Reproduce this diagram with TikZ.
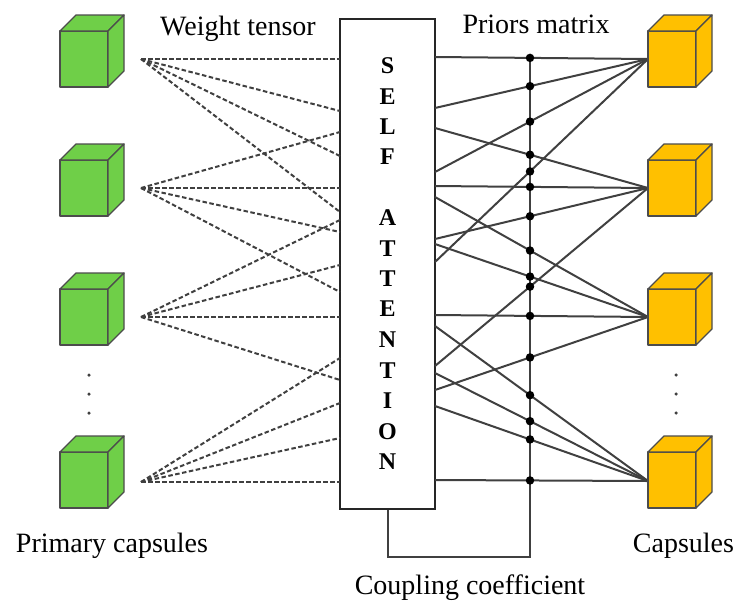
\documentclass[tikz,border=0pt]{standalone}
\usepackage{fontspec}
\setmainfont{Liberation Serif}
\usetikzlibrary{calc}
\definecolor{cubegreen}{RGB}{111,207,72}
\definecolor{cubegold}{RGB}{255,192,0}
\definecolor{linegray}{RGB}{64,64,64}
\newcommand\mycube[3]{%
  \filldraw[cubeline, fill=#3] (#1,#2) rectangle ++(48,56);
  \filldraw[cubeline, fill=#3] (#1,#2) -- ++(16,-16) -- ++(48,0) -- ++(-16,16) -- cycle;
  \filldraw[cubeline, fill=#3] (#1+48,#2) -- ++(16,-16) -- ++(0,56) -- ++(-16,16) -- cycle;
}
\tikzset{
  cubeline/.style={draw=black!70, line width=1.3pt, line join=round},
  weight/.style={draw=linegray, line width=2pt, dash pattern=on 4.5pt off 2.5pt},
  prior/.style={draw=linegray, line width=2pt},
  junction/.style={circle, fill=black, inner sep=0pt, minimum size=8.5pt},
  vdot/.style={circle, fill=linegray, inner sep=0pt, minimum size=3.5pt},
  captxt/.style={font=\fontsize{28}{32}\selectfont, anchor=base, inner sep=0pt},
  attbox/.style={draw=black!85, line width=2.4pt, fill=white, inner sep=0pt},
  boxletter/.style={font=\fontsize{24}{26}\selectfont\bfseries, inner sep=0pt},
}
\begin{document}
\begin{tikzpicture}[x=1pt, y=-1pt]
\useasboundingbox (0,0) rectangle (735,600);

% self-attention box
\node[attbox, minimum width=95pt, minimum height=490pt] (att) at (387.5,264) {};
\foreach \ch/\yy [count=\i] in {S/66,E/97,L/127,F/157,A/218,T/249,T/279,E/309,N/340,T/371,I/401,O/432,N/462}
  \node[boxletter] (ltr\i) at (387.5,\yy) {\ch};

% weight tensor (dashed)
\foreach \o/\oy/\ends in {1/59/{59,111,156,212},2/188/{132,188,232,292},3/317/{220,265,317,380},4/482/{358,403,438,482}}{
  \coordinate (src\o) at (141,\oy);
  \foreach \e in \ends {
    \coordinate (w\o-\e) at (340,\e);
    \draw[weight] (src\o) -- (w\o-\e);
  }
}

% priors (solid)
\foreach \c/\cy/\starts in {1/59/{57,108,172,262},2/188/{128,186,239,366},3/317/{197,244,315,390},4/481/{326,373,406,480}}{
  \coordinate (cap\c) at (648,\cy);
  \foreach \s in \starts {
    \coordinate (p\c-\s) at (435,\s);
    \draw[prior] (p\c-\s) -- (cap\c);
  }
}

% coupling coefficient path
\coordinate (topj) at ($(p1-57)!0.446!(cap1)$);
\coordinate (ccbend) at (387.5,557);
\draw[prior] (att.south) -- (ccbend) -| (topj);

% junction dots
\foreach \c/\starts in {1/{57,108,172,262},2/{128,186,239,366},3/{197,244,315,390},4/{326,373,406,480}}{
  \foreach \s in \starts {
    \node[junction] (j\c-\s) at ($(p\c-\s)!0.446!(cap\c)$) {};
  }
}

% cubes
\mycube{60}{31}{cubegreen}
\mycube{60}{160}{cubegreen}
\mycube{60}{289}{cubegreen}
\mycube{60}{452}{cubegreen}
\mycube{648}{31}{cubegold}
\mycube{648}{160}{cubegold}
\mycube{648}{289}{cubegold}
\mycube{648}{452}{cubegold}

% vertical ellipsis dots
\foreach \yy [count=\i] in {375,394,413}{
  \node[vdot] (ld\i) at (89,\yy) {};
  \node[vdot] (rd\i) at (676,\yy) {};
}

% captions
\node[captxt] (wt) at (238,35) {Weight tensor};
\node[captxt] (pm) at (536,33) {Priors matrix};
\node[captxt] (pc) at (112,552) {Primary capsules};
\node[captxt] (cp) at (683.5,552) {Capsules};
\node[captxt] (cc) at (470,594) {Coupling coefficient};
\end{tikzpicture}
\end{document}
